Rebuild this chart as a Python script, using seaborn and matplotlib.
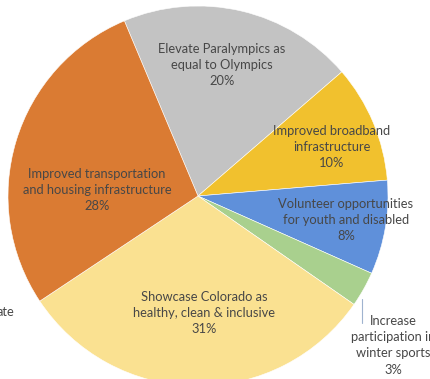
import matplotlib
matplotlib.use("Agg")
import matplotlib.pyplot as plt
import seaborn as sns

# Survey results: priorities for hosting the Games
categories = [
    "Elevate Paralympics as\nequal to Olympics",
    "Improved broadband\ninfrastructure",
    "Volunteer opportunities\nfor youth and disabled",
    "Increase\nparticipation in\nwinter sports",
    "Showcase Colorado as\nhealthy, clean & inclusive",
    "Improved transportation\nand housing infrastructure",
]
shares = [20, 10, 8, 3, 31, 28]
colors = ["#C3C3C3", "#F1C12E", "#5F90DA", "#A9D08E", "#FAE191", "#DA7B33"]

sns.set_theme(style="white")
plt.rcParams["font.family"] = ["Lato", "DejaVu Sans"]

W, H, DPI = 430, 379, 100
fig = plt.figure(figsize=(W / DPI, H / DPI), dpi=DPI)
ax = fig.add_axes([0, 0, 1, 1])

wedges, _ = ax.pie(
    shares,
    colors=colors,
    startangle=112.8,
    counterclock=False,
    radius=1.0,
    wedgeprops=dict(edgecolor="white", linewidth=0.4),
)

# axis window: pie centre at (198, 196) px, radius 190 px
r_px = 190.0
cx, cy = 198.0, 196.0
ax.set_xlim(-cx / r_px, (W - cx) / r_px)
ax.set_ylim(-(H - cy) / r_px, cy / r_px)
ax.set_aspect("auto")
ax.axis("off")

label_pos = [
    (0.126, 0.689),
    (0.705, 0.258),
    (0.779, -0.126),
    (1.026, -0.786),
    (0.032, -0.616),
    (-0.532, 0.032),
]
txt_color = "#474747"
fs = 9.3
for name, val, (x, y) in zip(categories, shares, label_pos):
    ax.text(x, y, f"{name}\n{val}%", ha="center", va="center",
            fontsize=fs, color=txt_color, linespacing=1.42, clip_on=False)

# leader line for the small slice
ax.plot([0.863, 0.863], [-0.54, -0.668], color="#9FB3CF", lw=0.8)

# partial label cut at the left border
ax.text(-cx / r_px + 14 / r_px, -0.61, "ate", ha="right", va="center",
        fontsize=fs, color=txt_color)

fig.savefig("out.png", dpi=DPI, facecolor="white")
